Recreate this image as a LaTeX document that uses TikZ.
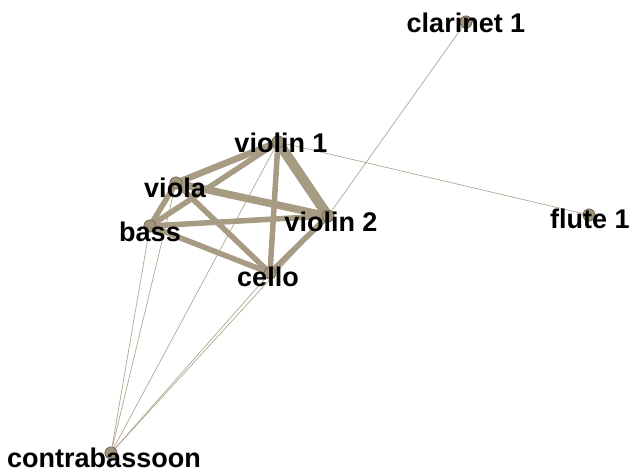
\documentclass[tikz,border=0pt]{standalone}
\usepackage{fontspec}
\setmainfont{Liberation Sans}
\definecolor{edgecol}{HTML}{A89B84}
\definecolor{thincol}{HTML}{B3A791}
\definecolor{nodefill}{HTML}{A29479}
\definecolor{nodeline}{HTML}{6E6454}
\begin{document}
\begin{tikzpicture}[x=1pt,y=-1pt,
  vert/.style={circle,fill=nodefill,draw=nodeline,line width=0.6pt,minimum size=12pt,inner sep=0pt},
  lab/.style={font=\fontsize{27}{29}\selectfont\bfseries,text=black,inner sep=0pt,anchor=center},
  thin/.style={draw=thincol,line width=0.7pt},
  thick/.style={draw=edgecol,line width=5.5pt},
]
\useasboundingbox (0,0) rectangle (633,474);
\fill[white] (0,0) rectangle (633,474);
% vertices
\node[vert] (v1) at (278,142) {};
\node[vert] (va) at (176,183) {};
\node[vert] (ba) at (150,226) {};
\node[vert] (v2) at (328,216) {};
\node[vert] (ce) at (270,273) {};
\node[vert] (cl) at (466,22) {};
\node[vert] (fl) at (589,215) {};
\node[vert] (cb) at (111,453) {};
% thin edges
\draw[thin] (cb.center) -- (ba.center);
\draw[thin] (cb.center) -- (va.center);
\draw[thin] (cb.center) -- (v1.center);
\draw[thin] (cb.center) -- (ce.center);
\draw[thin] (cb.center) -- (v2.center);
\draw[thin] (cl.center) -- (v2.center);
\draw[thin] (v1.center) -- (fl.center);
% thick edges
\draw[thick,line width=10pt] (v1.center) -- (v2.center);
\draw[thick,line width=6.5pt] (v1.center) -- (va.center);
\draw[thick] (v1.center) -- (ba.center);
\draw[thick] (v1.center) -- (ce.center);
\draw[thick,line width=7.5pt] (va.center) -- (v2.center);
\draw[thick] (va.center) -- (ba.center);
\draw[thick] (va.center) -- (ce.center);
\draw[thick] (ba.center) -- (v2.center);
\draw[thick] (ba.center) -- (ce.center);
\draw[thick] (ce.center) -- (v2.center);
% redraw vertices on top
\foreach \n in {v1,va,ba,v2,ce,cl,fl,cb}{
  \node[vert] at (\n.center) {};
}
% labels
\node[lab] (l1) at (281,143) {violin 1};
\node[lab] (la) at (175,188) {viola};
\node[lab] (lb) at (150,232) {bass};
\node[lab] (l2) at (331,222) {violin 2};
\node[lab] (lc) at (268,277) {cello};
\node[lab] (lcl) at (466,23) {clarinet 1};
\node[lab] (lf) at (590,219) {flute 1};
\node[lab] (lcb) at (104,458) {contrabassoon};
\end{tikzpicture}
\end{document}
